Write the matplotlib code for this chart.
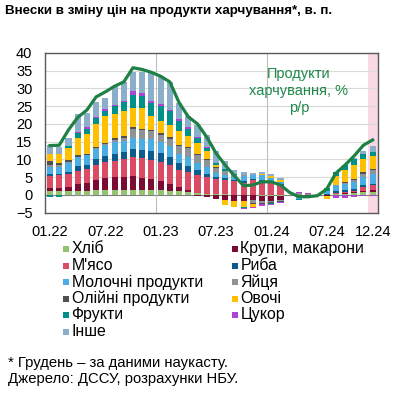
import numpy as np
import matplotlib
matplotlib.use('Agg')
import matplotlib.pyplot as plt
from matplotlib.patches import Rectangle

plt.rcParams['font.family'] = ['Liberation Sans', 'DejaVu Sans']

months = ['01.22', '02.22', '03.22', '04.22', '05.22', '06.22', '07.22', '08.22', '09.22',
          '10.22', '11.22', '12.22', '01.23', '02.23', '03.23', '04.23', '05.23', '06.23',
          '07.23', '08.23', '09.23', '10.23', '11.23', '12.23', '01.24', '02.24', '03.24',
          '04.24', '05.24', '06.24', '07.24', '08.24', '09.24', '10.24', '11.24', '12.24']
tick_labels = ['01.22', '07.22', '01.23', '07.23', '01.24', '07.24', '12.24']

bread = [1.1, 1.1, 1.1, 1.2, 1.2, 1.3, 1.3, 1.4, 1.4, 1.4, 1.4, 1.4, 1.3, 1.2, 1.0, 0.8, 0.6, 0.4,
         0.3, 0.2, 0.1, 0.0, -0.1, -0.2, -0.2, -0.2, 0.0, -0.1, -0.1, 0.0, 0.1, 0.3, 0.4, 0.5, 0.8, 0.9]
grains = [1.0, 1.0, 1.1, 1.8, 2.2, 3.0, 3.6, 3.8, 3.8, 3.9, 3.5, 3.0, 2.5, 1.8, 1.3, 0.6, -0.3, -0.6,
          -1.0, -1.4, -1.6, -1.6, -1.4, -1.4, -1.4, -1.2, 0.0, -0.2, -0.2, 0.0, -0.2, 0.1, 0.2, 0.2, 0.4, 0.6]
meat = [3.2, 3.4, 3.6, 3.8, 3.8, 4.2, 4.5, 4.5, 4.8, 5.4, 5.4, 5.5, 5.5, 5.5, 4.8, 5.0, 5.0, 4.8,
        4.2, 4.0, 3.8, 3.5, 4.2, 3.8, 3.6, 2.8, 0.0, 0.0, 0.0, 0.0, 0.0, 0.2, 0.3, 0.5, 1.0, 1.2]
fish = [0.6, 0.5, 0.8, 1.3, 1.3, 1.5, 1.6, 1.9, 2.0, 2.2, 2.3, 2.4, 2.4, 2.3, 2.0, 1.8, 1.3, 0.8,
        0.6, 0.5, 0.4, 0.3, 0.3, 0.3, 0.2, 0.2, 0.0, 0.0, 0.0, 0.0, 0.1, 0.5, 0.5, 0.5, 0.5, 0.5]
dairy = [2.1, 2.0, 2.3, 2.6, 2.7, 3.0, 3.0, 3.3, 3.3, 3.2, 3.2, 3.4, 3.2, 3.0, 2.5, 2.4, 2.2, 1.8,
         1.2, 1.0, 0.8, 1.5, 1.0, 1.5, 1.0, 0.6, 0.0, -0.8, -0.4, 0.0, 1.0, 1.6, 1.7, 2.0, 2.5, 2.8]
eggs = [0.4, 0.3, 0.3, -0.4, -0.4, 0.3, 0.3, 0.6, 0.8, 2.5, 2.5, 2.2, 2.0, 2.0, 2.2, 2.5, 2.2, 2.0,
        1.4, 1.0, 0.6, 0.3, -0.8, -0.6, -0.5, -0.4, 0.0, 0.5, 0.4, 0.0, 0.0, 0.0, 0.3, 0.5, 0.8, 0.9]
oil = [1.1, 0.8, 0.6, 0.5, 0.4, 0.3, 0.3, 0.4, 0.4, 0.4, 0.4, 0.4, 0.4, 0.4, 0.3, 0.3, 0.3, 0.3,
       0.2, 0.1, 0.0, -0.1, -0.2, -0.2, -0.2, -0.1, 0.0, 0.0, 0.0, 0.0, 0.0, 0.1, 0.2, 0.3, 0.5, 0.5]
veg = [1.9, 2.3, 3.5, 4.8, 5.6, 6.5, 7.5, 6.8, 7.0, 5.6, 5.8, 4.0, 3.5, 3.5, 3.8, 3.2, 3.0, 2.4,
       0.5, -1.4, -1.7, -1.8, -0.8, 0.3, 0.6, 0.5, 0.0, 0.0, 0.0, 0.0, -1.0, 2.5, 3.5, 4.0, 3.5, 3.5]
fruit = [-0.6, -0.6, 0.4, 1.5, 1.4, 1.5, 1.6, 2.3, 2.6, 3.6, 3.4, 3.6, 4.2, 3.8, 3.0, 2.0, 1.3, 0.8,
         0.6, 0.5, 0.3, -0.3, -0.2, -0.2, -0.2, -0.1, 0.0, -0.4, -0.2, 0.0, 0.8, 1.2, 1.4, 1.5, 1.4, 1.2]
sugar = [0.2, 0.2, 0.2, 0.3, 0.4, 0.4, 0.4, 0.4, 0.4, 1.0, 0.7, 0.5, 0.5, 0.4, 0.5, 0.4, 0.3, 0.2,
         0.1, 0.0, -0.1, -0.2, -0.3, -0.4, -0.4, -0.3, 0.0, 0.3, 0.2, 0.0, 0.0, -0.8, -0.8, -0.7, -0.3, -0.2]
other = [2.6, 2.0, 2.0, 5.0, 4.0, 4.2, 3.1, 5.2, 5.3, 5.4, 6.0, 8.0, 7.8, 8.0, 4.5, 3.3, 3.5, 3.5,
         3.3, 2.3, 1.0, 0.8, 0.6, 0.6, 0.5, 0.8, 0.0, 0.0, 0.0, 0.0, 0.0, 0.0, 0.0, 0.3, 1.0, 1.6]

food_yoy = [13.9, 14.0, 18.3, 21.8, 23.9, 27.6, 29.0, 30.6, 31.8, 35.8, 35.3, 34.5, 33.4, 31.8,
            26.0, 22.0, 20.0, 16.3, 11.8, 8.4, 5.4, 2.6, 2.8, 3.7, 3.7, 2.8, 0.7, -0.5, -0.5,
            -0.2, 1.6, 6.1, 8.4, 11.0, 14.0, 15.5]

series = [
    ('Хліб', bread, '#92C46D'),
    ('Крупи, макарони', grains, '#7A0C33'),
    ("М'ясо", meat, '#DB4B63'),
    ('Риба', fish, '#0B5B8C'),
    ('Молочні продукти', dairy, '#4BAEE3'),
    ('Яйця', eggs, '#8E9398'),
    ('Олійні продукти', oil, '#505050'),
    ('Овочі', veg, '#FFC000'),
    ('Фрукти', fruit, '#00908A'),
    ('Цукор', sugar, '#B042D6'),
    ('Інше', other, '#8BAECB'),
]

W, H = 405, 394
fig = plt.figure(figsize=(W / 100, H / 100), dpi=100)
ax = fig.add_axes([0.111, 0.46, 0.8216, 0.406])

x = np.arange(len(months))
ax.axvspan(34.5, 35.6, color='#F9D9E6', zorder=0, lw=0)

pos_bottom = np.zeros(len(x))
neg_bottom = np.zeros(len(x))
for name, vals, col in series:
    v = np.array(vals)
    p = np.where(v > 0, v, 0)
    n = np.where(v < 0, v, 0)
    ax.bar(x, p, 0.66, bottom=pos_bottom, color=col, zorder=2, lw=0)
    ax.bar(x, n, 0.66, bottom=neg_bottom, color=col, zorder=2, lw=0)
    pos_bottom += p
    neg_bottom += n

ax.plot(x, food_yoy, color='#1E8045', lw=2.3, zorder=3, solid_joinstyle='round')

ax.set_xlim(-0.55, 35.55)
ax.set_ylim(-5, 40)
ax.set_yticks(np.arange(-5, 41, 5))
ax.set_xticks([months.index(m) for m in tick_labels])
ax.set_xticklabels(tick_labels)
ax.tick_params(length=0, labelsize=10.5, colors='black')
ax.tick_params(axis='x', pad=9)
ax.tick_params(axis='y', pad=9)
for yy in np.arange(5, 41, 5):
    ax.axhline(yy, color='#D9D9D9', lw=0.8, zorder=1)
ax.axhline(0, color='#7F7F7F', lw=0.8, zorder=1)
for xv in [11.5, 23.5]:
    ax.axvline(xv, color='#BFBFBF', lw=0.8, zorder=1)
for s in ax.spines.values():
    s.set_color('#595959')
    s.set_linewidth(1.0)

ax.text(27.0, 36.0, 'Продукти\nхарчування, %\nр/р', color='#1E8A4A', fontsize=10.5,
        ha='center', va='top', linespacing=1.25, zorder=4)

fig.text(0.012, 0.972, 'Внески в зміну цін на продукти харчування*, в. п.',
         fontsize=9.6, fontweight='bold', ha='left', va='center')

# legend, two columns, row by row as in the original
col_x = [63, 232]
row_y = [249, 265.5, 282, 298.5, 315, 331.5]
for k, (name, vals, col) in enumerate(series):
    r, c = divmod(k, 2)
    px, py = col_x[c], row_y[r]
    fig.patches.append(Rectangle((px / W, 1 - (py + 3) / H), 6 / W, 6 / H,
                                 transform=fig.transFigure, facecolor=col, lw=0))
    fig.text((px + 8.5) / W, 1 - py / H, name, fontsize=11.4, ha='left', va='center')

fig.text(0.02, 1 - 363 / H, '* Грудень – за даними наукасту.', fontsize=10.7, ha='left', va='center')
fig.text(0.02, 1 - 379.5 / H, 'Джерело: ДССУ, розрахунки НБУ.', fontsize=10.7, ha='left', va='center')

fig.savefig('out.png', dpi=100)
